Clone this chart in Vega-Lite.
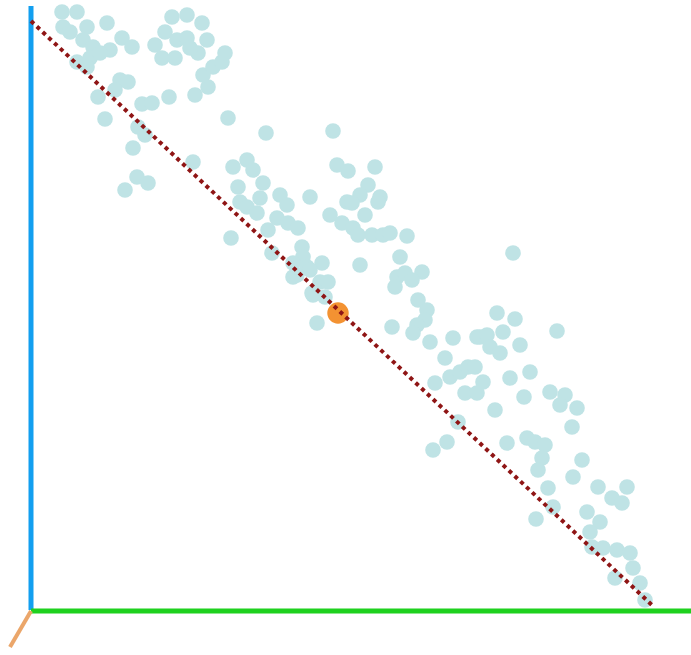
{
  "$schema": "https://vega.github.io/schema/vega-lite/v6.json",
  "width": 691,
  "height": 655,
  "autosize": {"type": "none"},
  "padding": 0,
  "background": "white",
  "config": {"view": {"stroke": null}},
  "layer": [
    {
      "data": {"values": [
        {"x":31,"y":598},{"x":46,"y":598},{"x":32,"y":583},{"x":39,"y":578},{"x":56,"y":583},{"x":76,"y":587},{"x":52,"y":570},{"x":62,"y":563},{"x":79,"y":560},{"x":91,"y":572},
        {"x":101,"y":563},{"x":46,"y":548},{"x":59,"y":552},{"x":56,"y":543},{"x":69,"y":557},{"x":89,"y":530},{"x":97,"y":528},{"x":67,"y":513},{"x":84,"y":520},{"x":74,"y":491},
        {"x":111,"y":506},{"x":121,"y":507},{"x":138,"y":513},{"x":164,"y":515},{"x":177,"y":523},{"x":172,"y":535},{"x":182,"y":543},{"x":191,"y":548},{"x":194,"y":557},{"x":167,"y":557},
        {"x":176,"y":570},{"x":171,"y":587},{"x":156,"y":595},{"x":141,"y":593},{"x":134,"y":578},{"x":146,"y":570},{"x":156,"y":572},{"x":159,"y":562},{"x":124,"y":565},{"x":131,"y":552},
        {"x":144,"y":552},{"x":197,"y":492},{"x":107,"y":483},{"x":114,"y":475},{"x":102,"y":462},{"x":162,"y":448},{"x":106,"y":433},{"x":117,"y":427},{"x":94,"y":420},{"x":202,"y":443},
        {"x":216,"y":450},{"x":207,"y":423},{"x":235,"y":477},{"x":302,"y":479},{"x":222,"y":440},{"x":232,"y":427},{"x":229,"y":412},{"x":209,"y":408},{"x":216,"y":403},{"x":226,"y":397},
        {"x":249,"y":415},{"x":256,"y":405},{"x":246,"y":392},{"x":237,"y":380},{"x":257,"y":387},{"x":267,"y":382},{"x":279,"y":413},{"x":200,"y":372},{"x":271,"y":363},{"x":241,"y":357},
        {"x":306,"y":445},{"x":317,"y":439},{"x":344,"y":443},{"x":337,"y":425},{"x":349,"y":413},{"x":347,"y":408},{"x":329,"y":415},{"x":316,"y":408},{"x":321,"y":407},{"x":334,"y":395},
        {"x":299,"y":395},{"x":311,"y":387},{"x":322,"y":382},{"x":327,"y":375},{"x":341,"y":375},{"x":352,"y":375},{"x":359,"y":377},{"x":376,"y":374},{"x":291,"y":347},{"x":329,"y":345},
        {"x":369,"y":353},{"x":272,"y":353},{"x":262,"y":347},{"x":276,"y":343},{"x":262,"y":333},{"x":289,"y":328},{"x":297,"y":328},{"x":282,"y":315},{"x":294,"y":313},{"x":366,"y":333},
        {"x":374,"y":337},{"x":391,"y":338},{"x":381,"y":330},{"x":364,"y":323},{"x":387,"y":310},{"x":396,"y":300},{"x":394,"y":290},{"x":386,"y":285},{"x":382,"y":277},{"x":286,"y":287},
        {"x":361,"y":283},{"x":399,"y":268},{"x":422,"y":272},{"x":446,"y":273},{"x":482,"y":357},{"x":414,"y":252},{"x":404,"y":227},{"x":419,"y":233},{"x":429,"y":238},{"x":437,"y":243},
        {"x":444,"y":243},{"x":434,"y":217},{"x":446,"y":217},{"x":452,"y":228},{"x":464,"y":200},{"x":449,"y":273},{"x":456,"y":275},{"x":459,"y":263},{"x":469,"y":257},{"x":466,"y":297},
        {"x":484,"y":291},{"x":472,"y":278},{"x":489,"y":265},{"x":479,"y":232},{"x":499,"y":238},{"x":493,"y":213},{"x":526,"y":279},{"x":519,"y":218},{"x":534,"y":215},{"x":529,"y":205},
        {"x":546,"y":202},{"x":541,"y":183},{"x":427,"y":188},{"x":416,"y":168},{"x":402,"y":160},{"x":476,"y":167},{"x":496,"y":172},{"x":504,"y":168},{"x":514,"y":165},{"x":511,"y":152},
        {"x":507,"y":140},{"x":551,"y":150},{"x":542,"y":133},{"x":517,"y":122},{"x":567,"y":123},{"x":596,"y":123},{"x":581,"y":112},{"x":591,"y":107},{"x":522,"y":103},{"x":505,"y":91},
        {"x":556,"y":98},{"x":569,"y":88},{"x":559,"y":78},{"x":561,"y":63},{"x":572,"y":62},{"x":586,"y":60},{"x":599,"y":57},{"x":602,"y":42},{"x":584,"y":32},{"x":609,"y":27},
        {"x":614,"y":10},{"x":279,"y":340},{"x":281,"y":317},{"x":266,"y":335}
      ]},
      "mark": {"type": "circle", "size": 245, "color": "#bfe3e5", "opacity": 1},
      "encoding": {
        "x": {"field": "x", "type": "quantitative", "scale": {"domain": [-31, 660], "nice": false, "zero": false}, "axis": null},
        "y": {"field": "y", "type": "quantitative", "scale": {"domain": [-45, 610], "nice": false, "zero": false}, "axis": null}
      }
    },
    {
      "data": {"values": [{"x": 0, "y": 0, "x2": 0, "y2": 604}]},
      "mark": {"type": "rule", "color": "#129ff0", "strokeWidth": 5},
      "encoding": {
        "x": {"field": "x", "type": "quantitative"},
        "y": {"field": "y", "type": "quantitative"},
        "x2": {"field": "x2"},
        "y2": {"field": "y2"}
      }
    },
    {
      "data": {"values": [{"x": 0, "y": -1, "x2": 660, "y2": -1}]},
      "mark": {"type": "rule", "color": "#1fd11f", "strokeWidth": 5},
      "encoding": {
        "x": {"field": "x", "type": "quantitative"},
        "y": {"field": "y", "type": "quantitative"},
        "x2": {"field": "x2"},
        "y2": {"field": "y2"}
      }
    },
    {
      "data": {"values": [{"x": 0, "y": -1, "x2": -21, "y2": -37}]},
      "mark": {"type": "rule", "color": "#eba66a", "strokeWidth": 4},
      "encoding": {
        "x": {"field": "x", "type": "quantitative"},
        "y": {"field": "y", "type": "quantitative"},
        "x2": {"field": "x2"},
        "y2": {"field": "y2"}
      }
    },
    {
      "data": {"values": [{"x": 307, "y": 297}]},
      "mark": {"type": "circle", "size": 460, "color": "#f39232", "opacity": 1},
      "encoding": {
        "x": {"field": "x", "type": "quantitative"},
        "y": {"field": "y", "type": "quantitative"}
      }
    },
    {
      "data": {"values": [{"x": 0, "y": 589, "x2": 623, "y2": 3}]},
      "mark": {"type": "rule", "color": "#8f1515", "strokeWidth": 4, "strokeDash": [4, 4]},
      "encoding": {
        "x": {"field": "x", "type": "quantitative"},
        "y": {"field": "y", "type": "quantitative"},
        "x2": {"field": "x2"},
        "y2": {"field": "y2"}
      }
    }
  ]
}
